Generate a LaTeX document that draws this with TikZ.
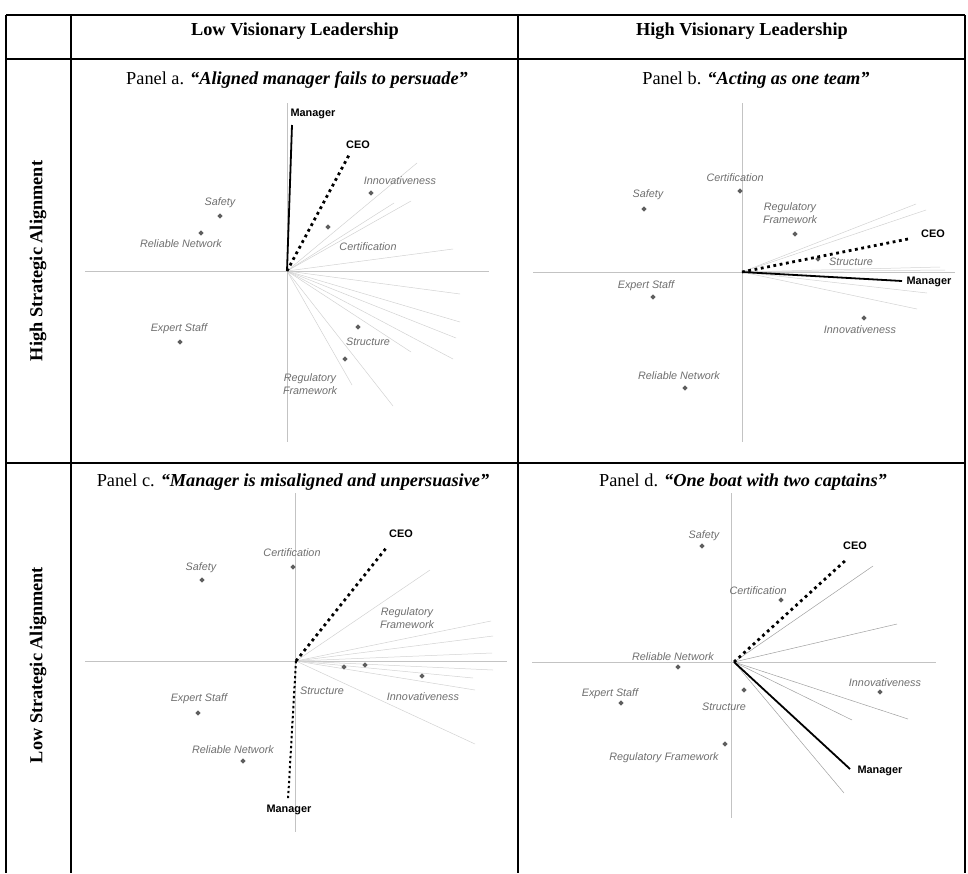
\documentclass[tikz,border=0pt]{standalone}
\usepackage{fontspec}
\setmainfont{Liberation Serif}
\setsansfont{Liberation Sans}
\usetikzlibrary{shapes.geometric}
\definecolor{axisgray}{RGB}{195,195,195}
\definecolor{raygray}{RGB}{210,210,210}
\definecolor{raydark}{RGB}{160,160,160}
\definecolor{ptgray}{RGB}{95,95,95}
\definecolor{labgray}{RGB}{110,110,110}

\begin{document}
\begin{tikzpicture}[x=1pt, y=-1pt,
	grid/.style={line width=1.2pt},
	axis/.style={axisgray, line width=0.8pt},
	ray/.style={raygray, line width=0.5pt},
	pt/.style={diamond, fill=ptgray, inner sep=0pt, minimum size=5.6pt},
	lab/.style={labgray, font=\sffamily\itshape\fontsize{10.8}{13.5}\selectfont, inner sep=0pt, align=center},
	who/.style={font=\sffamily\bfseries\fontsize{10.9}{13}\selectfont, inner sep=0pt},
	mgr/.style={line width=1.8pt},
	ceo/.style={line width=2.8pt, dash pattern=on 2.8pt off 3.6pt},
	head/.style={font=\bfseries\fontsize{18.3}{22}\selectfont, inner sep=0pt},
	ptitle/.style={font=\fontsize{18.3}{22}\selectfont, inner sep=0pt, anchor=base}]
	\useasboundingbox (0,0) rectangle (968,873);
	% table
	\draw[grid] (6,15) -- (965,15);
	\draw[grid] (6,59) -- (965,59);
	\draw[grid] (6,463) -- (965,463);
	\draw[grid] (6,15) -- (6,873);
	\draw[grid] (71,15) -- (71,873);
	\draw[grid] (518,15) -- (518,873);
	\draw[grid] (965,15) -- (965,873);
	\node[head, anchor=base] (lowvis) at (295,35) {Low Visionary Leadership};
	\node[head, anchor=base] (highvis) at (742,35) {High Visionary Leadership};
	\node[head, rotate=90] (highalign) at (38,261) {High Strategic Alignment};
	\node[head, rotate=90] (lowalign) at (38,665) {Low Strategic Alignment};

	% panel a
	\node[ptitle] (ta) at (297,84) {Panel a. \textbf{\textit{“Aligned manager fails to persuade”}}};
	\coordinate (oa) at (287,271);
	\draw[axis] (85,271) -- (489,271);
	\draw[axis] (287,103) -- (287,442);
	\draw[ray] (oa) -- (417,163);
	\draw[ray] (oa) -- (394,203);
	\draw[ray] (oa) -- (411,201);
	\draw[ray] (oa) -- (453,249);
	\draw[ray] (oa) -- (460,294);
	\draw[ray] (oa) -- (460,322);
	\draw[ray] (oa) -- (456,338);
	\draw[ray] (oa) -- (453,359);
	\draw[ray] (oa) -- (411,352);
	\draw[ray] (oa) -- (393,406);
	\draw[ray] (oa) -- (352,385);
	\node[pt] (a-innov) at (371,193) {};
	\node[pt] (a-cert) at (328,227) {};
	\node[pt] (a-safe) at (220,216) {};
	\node[pt] (a-net) at (201,233) {};
	\node[pt] (a-staff) at (180,342) {};
	\node[pt] (a-struct) at (358,327) {};
	\node[pt] (a-reg) at (345,359) {};
	\node[lab] at (400,181) {Innovativeness};
	\node[lab] at (368,247) {Certification};
	\node[lab] at (220,203) {Safety};
	\node[lab] at (181,244) {Reliable Network};
	\node[lab] at (179,329) {Expert Staff};
	\node[lab] at (368,342) {Structure};
	\node[lab] at (310,384) {Regulatory\\Framework};
	\coordinate (a-mgr) at (292,125);
	\coordinate (a-ceo) at (349,155);
	\draw[mgr] (oa) -- (a-mgr);
	\draw[ceo] (oa) -- (a-ceo);
	\node[who] at (313,114) {Manager};
	\node[who] at (358,145) {CEO};

	% panel b
	\node[ptitle] (tb) at (756,84) {Panel b. \textbf{\textit{“Acting as one team”}}};
	\coordinate (ob) at (742,272);
	\draw[axis] (533,272) -- (955,272);
	\draw[axis] (742,103) -- (742,442);
	\draw[ray] (ob) -- (916,204);
	\draw[ray] (ob) -- (926,210);
	\draw[ray] (ob) -- (940,267);
	\draw[ray] (ob) -- (945,270);
	\draw[ray] (ob) -- (927,293);
	\draw[ray] (ob) -- (917,309);
	\node[pt] (b-cert) at (740,191) {};
	\node[pt] (b-safe) at (644,209) {};
	\node[pt] (b-reg) at (795,234) {};
	\node[pt] (b-struct) at (818,259) {};
	\node[pt] (b-staff) at (653,297) {};
	\node[pt] (b-innov) at (864,318) {};
	\node[pt] (b-net) at (685,388) {};
	\node[lab] at (735,178) {Certification};
	\node[lab] at (648,195) {Safety};
	\node[lab] at (790,213) {Regulatory\\Framework};
	\node[lab] at (851,262) {Structure};
	\node[lab] at (646,286) {Expert Staff};
	\node[lab] at (860,330) {Innovativeness};
	\node[lab] at (679,376) {Reliable Network};
	\coordinate (b-mgr) at (902,281);
	\coordinate (b-ceo) at (908,239);
	\draw[mgr] (ob) -- (b-mgr);
	\draw[ceo] (ob) -- (b-ceo);
	\node[who] at (929,282) {Manager};
	\node[who] at (933,234) {CEO};

	% panel c
	\node[ptitle] (tc) at (293,486) {Panel c. \textbf{\textit{“Manager is misaligned and unpersuasive”}}};
	\coordinate (oc) at (296,661);
	\draw[axis] (85,661) -- (507,661);
	\draw[axis] (295,493) -- (295,832);
	\draw[ray] (oc) -- (430,570);
	\draw[ray] (oc) -- (491,621);
	\draw[ray] (oc) -- (493,636);
	\draw[ray] (oc) -- (492,653);
	\draw[ray] (oc) -- (493,670);
	\draw[ray] (oc) -- (473,678);
	\draw[ray] (oc) -- (475,690);
	\draw[ray] (oc) -- (475,744);
	\node[pt] (c-cert) at (293,567) {};
	\node[pt] (c-safe) at (202,580) {};
	\node[pt] (c-struct) at (344,667) {};
	\node[pt] (c-reg) at (365,665) {};
	\node[pt] (c-innov) at (422,676) {};
	\node[pt] (c-staff) at (198,713) {};
	\node[pt] (c-net) at (243,761) {};
	\node[lab] at (292,553) {Certification};
	\node[lab] at (201,568) {Safety};
	\node[lab] at (407,618) {Regulatory\\Framework};
	\node[lab] at (322,691) {Structure};
	\node[lab] at (423,697) {Innovativeness};
	\node[lab] at (199,699) {Expert Staff};
	\node[lab] at (233,750) {Reliable Network};
	\coordinate (c-mgr) at (288,800);
	\coordinate (c-ceo) at (387,547);
	\draw[line width=2pt, dash pattern=on 2.4pt off 2.6pt] (oc) -- (c-mgr);
	\draw[ceo] (oc) -- (c-ceo);
	\node[who] at (289,810) {Manager};
	\node[who] at (401,534) {CEO};

	% panel d
	\node[ptitle] (td) at (743,486) {Panel d. \textbf{\textit{“One boat with two captains”}}};
	\coordinate (od) at (734,662);
	\draw[axis] (532,662) -- (936,662);
	\draw[axis] (731,493) -- (731,818);
	\draw[raydark, line width=0.5pt] (od) -- (873,566);
	\draw[raydark, line width=0.5pt] (od) -- (897,624);
	\draw[raydark, line width=0.5pt] (od) -- (908,719);
	\draw[raydark, line width=0.5pt] (od) -- (852,720);
	\draw[raydark, line width=0.5pt] (od) -- (844,793);
	\node[pt] (d-safe) at (702,546) {};
	\node[pt] (d-cert) at (781,600) {};
	\node[pt] (d-net) at (678,667) {};
	\node[pt] (d-staff) at (621,703) {};
	\node[pt] (d-struct) at (744,690) {};
	\node[pt] (d-reg) at (725,744) {};
	\node[pt] (d-innov) at (880,692) {};
	\node[lab] at (704,536) {Safety};
	\node[lab] at (758,591) {Certification};
	\node[lab] at (673,657) {Reliable Network};
	\node[lab] at (610,694) {Expert Staff};
	\node[lab] at (724,707) {Structure};
	\node[lab] at (664,758) {Regulatory Framework};
	\node[lab] at (885,683) {Innovativeness};
	\coordinate (d-mgr) at (850,769);
	\coordinate (d-ceo) at (847,559);
	\draw[mgr] (od) -- (d-mgr);
	\draw[ceo] (od) -- (d-ceo);
	\node[who] at (880,771) {Manager};
	\node[who] at (855,546) {CEO};
\end{tikzpicture}
\end{document}
